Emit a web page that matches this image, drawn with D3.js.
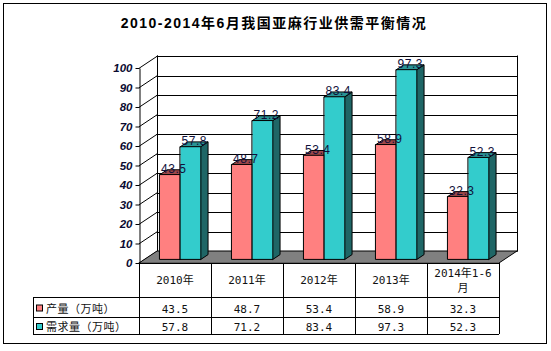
<!DOCTYPE html>
<html>
<head>
<meta charset="utf-8">
<script src="https://cdn.jsdelivr.net/npm/d3@7"></script>
<style>
  body { margin: 0; background: #fff; }
  svg { display: block; }
</style>
</head>
<body>
<div id="container"></div>
<script>
const width = 551, height = 351;

/** -------------- DATA -------------- */

const categories = ["2010年", "2011年", "2012年", "2013年", "2014年1-6月"];
const headerLines = [["2010年"], ["2011年"], ["2012年"], ["2013年"], ["2014年1-6", "月"]];
const seriesNames = ["产量（万吨）", "需求量（万吨）"];
const production = [43.5, 48.7, 53.4, 58.9, 32.3];
const demand = [57.8, 71.2, 83.4, 97.3, 52.3];
const yTicks = [0, 10, 20, 30, 40, 50, 60, 70, 80, 90, 100];

const series = [
  { name: seriesNames[0], values: production, front: "#ff8080", top: "#a04848", side: "#803838" },
  { name: seriesNames[1], values: demand, front: "#33cccc", top: "#2a9494", side: "#1f6666" }
];

/** -------------- LAYOUT AND SCALES -------------- */

const plot = { left: 139, right: 499, bottom: 263, top: 68 };
const depth = { dx: 18, dy: -12 };      // offset from front plane to back wall
const barZ = [0.3, 0.7];                 // bars sit in the middle of the depth

const x = d3.scaleBand(categories, [plot.left, plot.right]);
const xInner = d3.scaleBand(seriesNames, [0, x.bandwidth()]).paddingOuter(0.76);
const y = d3.scaleLinear([0, 100], [plot.bottom, plot.top]);

const off = z => [depth.dx * z, depth.dy * z];

/** -------------- APPEND TO DOM -------------- */

const svg = d3.select("#container")
  .append("svg")
  .attr("width", width)
  .attr("height", height);

// outer frame
svg.append("rect")
  .attr("x", 3.5).attr("y", 3.5)
  .attr("width", 543).attr("height", 340)
  .attr("fill", "#fff")
  .attr("stroke", "#000");

svg.append("text")
  .attr("x", 274).attr("y", 28)
  .attr("text-anchor", "middle")
  .attr("font-family", "'Liberation Sans', 'Noto Sans CJK SC', sans-serif")
  .attr("font-weight", "bold")
  .attr("font-size", 14)
  .attr("letter-spacing", 1.5)
  .text("2010-2014年6月我国亚麻行业供需平衡情况");

const g = svg.append("g").attr("stroke-linecap", "square");
const [bx, by] = off(1);

// back wall gridlines
g.append("g")
  .selectAll("line")
  .data(yTicks)
  .join("line")
    .attr("x1", plot.left + bx).attr("x2", plot.right + bx)
    .attr("y1", d => Math.round(y(d) + by) + 0.5)
    .attr("y2", d => Math.round(y(d) + by) + 0.5)
    .attr("stroke", "#000");

// left side wall gridlines (diagonals)
g.append("g")
  .selectAll("line")
  .data(yTicks)
  .join("line")
    .attr("x1", plot.left + 0.5).attr("y1", d => y(d))
    .attr("x2", plot.left + bx + 0.5).attr("y2", d => y(d) + by)
    .attr("stroke", "#000");

// wall edges
g.append("line")
  .attr("x1", plot.left + bx + 0.5).attr("x2", plot.left + bx + 0.5)
  .attr("y1", y(100) + by).attr("y2", y(0) + by)
  .attr("stroke", "#000");
g.append("line")
  .attr("x1", plot.right + bx + 0.5).attr("x2", plot.right + bx + 0.5)
  .attr("y1", y(100) + by).attr("y2", y(0) + by)
  .attr("stroke", "#000");

// floor
g.append("path")
  .attr("d", d3.line()([
    [plot.left, y(0)], [plot.left + bx, y(0) + by],
    [plot.right + bx, y(0) + by], [plot.right, y(0)]
  ]) + "Z")
  .attr("fill", "#808080")
  .attr("stroke", "#000");

// front axis with ticks and labels
const axis = svg.append("g")
  .attr("transform", `translate(${plot.left + 0.5},0)`)
  .call(d3.axisLeft(y).tickValues(yTicks).tickSize(4).tickSizeOuter(0).tickPadding(3));
axis.select(".domain").attr("stroke", "#000");
axis.selectAll(".tick line").attr("stroke", "#000");
axis.selectAll(".tick text")
  .attr("fill", "#0a0a30")
  .attr("font-family", "'Liberation Sans', Arial, sans-serif")
  .attr("font-size", 11.5)
  .attr("font-weight", "bold")
  .attr("font-style", "italic");

// bars
const [z0x, z0y] = off(barZ[0]);
const [z1x, z1y] = off(barZ[1]);
const bars = [];
categories.forEach((c, i) => {
  series.forEach(s => {
    const xl = x(c) + xInner(s.name) + z0x;
    const xr = xl + xInner.bandwidth();
    const yt = y(s.values[i]) + z0y;
    const yb = y(0) + z0y;
    bars.push({ s, v: s.values[i], xl, xr, yt, yb });
  });
});

const barG = g.selectAll("g.bar")
  .data(bars)
  .join("g")
    .attr("class", "bar")
    .attr("stroke", "#000")
    .attr("stroke-linejoin", "round");

const ddx = z1x - z0x, ddy = z1y - z0y;
barG.append("path")
  .attr("fill", d => d.s.side)
  .attr("d", d => d3.line()([[d.xr, d.yt], [d.xr + ddx, d.yt + ddy], [d.xr + ddx, d.yb + ddy], [d.xr, d.yb]]) + "Z");
barG.append("path")
  .attr("fill", d => d.s.top)
  .attr("d", d => d3.line()([[d.xl, d.yt], [d.xl + ddx, d.yt + ddy], [d.xr + ddx, d.yt + ddy], [d.xr, d.yt]]) + "Z");
barG.append("rect")
  .attr("fill", d => d.s.front)
  .attr("x", d => d.xl).attr("y", d => d.yt)
  .attr("width", d => d.xr - d.xl).attr("height", d => d.yb - d.yt);

// data labels
svg.append("g")
  .selectAll("text")
  .data(bars)
  .join("text")
    .attr("x", d => (d.xl + d.xr + ddx) / 2)
    .attr("y", d => d.yt - 1.5)
    .attr("text-anchor", "middle")
    .attr("font-family", "'Liberation Sans', Arial, sans-serif")
    .attr("font-size", 12)
    .attr("letter-spacing", 0.5)
    .attr("fill", "#10103a")
    .text(d => d.v);

/** -------------- DATA TABLE -------------- */

const table = svg.append("g")
  .attr("stroke", "#000")
  .attr("font-family", "'DejaVu Sans Mono', 'Noto Sans CJK SC', monospace")
  .attr("font-size", 11);

const rows = [plot.bottom, 297, 317, 334];
const legendLeft = 33;

// horizontal lines
table.append("line")
  .attr("x1", plot.left).attr("x2", plot.right)
  .attr("y1", rows[0] + 0.5).attr("y2", rows[0] + 0.5);
rows.slice(1).forEach(r => {
  table.append("line")
    .attr("x1", legendLeft).attr("x2", plot.right)
    .attr("y1", r + 0.5).attr("y2", r + 0.5);
});
// vertical lines
categories.concat(null).forEach((c, i) => {
  const xv = (c ? x(c) : plot.right) + 0.5;
  table.append("line")
    .attr("x1", xv).attr("x2", xv)
    .attr("y1", rows[0]).attr("y2", rows[3]);
});
table.append("line")
  .attr("x1", legendLeft + 0.5).attr("x2", legendLeft + 0.5)
  .attr("y1", rows[1]).attr("y2", rows[3]);

// header
categories.forEach((c, i) => {
  const lines = headerLines[i];
  const cy = (rows[0] + rows[1]) / 2;
  lines.forEach((t, j) => {
    table.append("text")
      .attr("stroke", "none")
      .attr("fill", "#111")
      .attr("x", x(c) + x.bandwidth() / 2)
      .attr("y", cy + (j - (lines.length - 1) / 2) * 15)
      .attr("dy", "0.4em")
      .attr("text-anchor", "middle")
      .text(t);
  });
});

// series rows
series.forEach((s, k) => {
  const cy = (rows[k + 1] + rows[k + 2]) / 2 + 1.5;
  table.append("rect")
    .attr("x", legendLeft + 3.5).attr("y", cy - 3.5)
    .attr("width", 6).attr("height", 6)
    .attr("fill", s.front);
  table.append("text")
    .attr("stroke", "none").attr("fill", "#111")
    .attr("x", legendLeft + 13).attr("y", cy).attr("dy", "0.38em")
    .attr("font-family", "'Noto Sans CJK SC', sans-serif")
    .attr("letter-spacing", 0.5)
    .text(s.name);
  s.values.forEach((v, i) => {
    table.append("text")
      .attr("stroke", "none").attr("fill", "#111")
      .attr("x", x(categories[i]) + x.bandwidth() / 2)
      .attr("y", cy).attr("dy", "0.38em")
      .attr("text-anchor", "middle")
      .text(v.toFixed(1));
  });
});
</script>
</body>
</html>
